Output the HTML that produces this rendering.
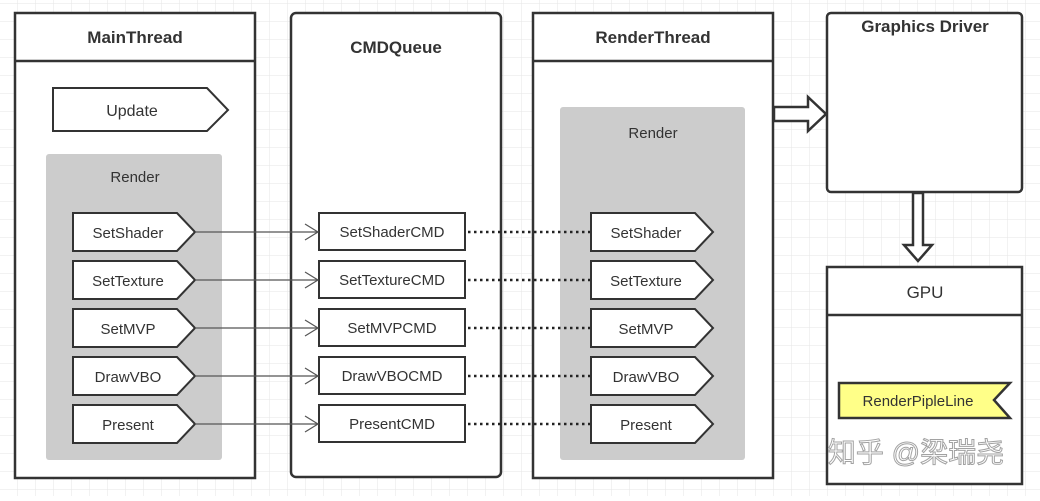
<!DOCTYPE html>
<html><head><meta charset="utf-8"><style>
body{margin:0;width:1040px;height:496px;overflow:hidden;background:#fff;}
svg text{font-family:"Liberation Sans","Noto Sans CJK SC",sans-serif;}
</style></head><body>
<svg width="1040" height="496" viewBox="0 0 1040 496" xmlns="http://www.w3.org/2000/svg">
<defs>
<pattern id="g" width="18" height="18" patternUnits="userSpaceOnUse" x="0" y="4">
<path d="M18 0V18M0 18H18" stroke="#e6e6e6" stroke-width="1" fill="none"/>
</pattern>
</defs>
<rect width="1040" height="496" fill="url(#g)"/>
<g stroke="#333" stroke-width="2.5" fill="#fff">
<rect x="15" y="13" width="240" height="465"/>
<line x1="15" y1="61" x2="255" y2="61"/>
<rect x="291" y="13" width="210" height="464" rx="5"/>
<rect x="533" y="13" width="240" height="465"/>
<line x1="533" y1="61" x2="773" y2="61"/>
<rect x="827" y="13" width="195" height="179" rx="4"/>
<rect x="827" y="267" width="195" height="217"/>
<line x1="827" y1="315" x2="1022" y2="315"/>
</g>
<g fill="#333" font-weight="bold" font-size="17" text-anchor="middle">
<text x="135" y="43">MainThread</text>
<text x="396" y="53">CMDQueue</text>
<text x="653" y="43">RenderThread</text>
<text x="925" y="32">Graphics Driver</text>
</g>
<text x="925" y="298" font-size="17" fill="#333" text-anchor="middle">GPU</text>
<rect x="46" y="154" width="176" height="306" rx="3" fill="#cccccc"/>
<rect x="560" y="107" width="185" height="353" rx="3" fill="#cccccc"/>
<text x="135" y="182" font-size="15" fill="#333" text-anchor="middle">Render</text>
<text x="653" y="138" font-size="15" fill="#333" text-anchor="middle">Render</text>
<g stroke="#333" stroke-width="2" fill="#fff">
<path d="M53 88H207L228 110L207 131H53Z"/>
</g>
<text x="132" y="116" font-size="16" fill="#333" text-anchor="middle">Update</text>
<g font-size="15" fill="#333" text-anchor="middle">
<!-- rows -->
<g id="r">
</g>
</g>
<g stroke="#333" stroke-width="2" fill="#fff">
<path d="M73 213H177L195 232L177 251H73Z"/>
<path d="M73 261H177L195 280L177 299H73Z"/>
<path d="M73 309H177L195 328L177 347H73Z"/>
<path d="M73 357H177L195 376L177 395H73Z"/>
<path d="M73 405H177L195 424L177 443H73Z"/>
<path d="M591 213H695L713 232L695 251H591Z"/>
<path d="M591 261H695L713 280L695 299H591Z"/>
<path d="M591 309H695L713 328L695 347H591Z"/>
<path d="M591 357H695L713 376L695 395H591Z"/>
<path d="M591 405H695L713 424L695 443H591Z"/>
<rect x="319" y="213" width="146" height="37"/>
<rect x="319" y="261" width="146" height="37"/>
<rect x="319" y="309" width="146" height="37"/>
<rect x="319" y="357" width="146" height="37"/>
<rect x="319" y="405" width="146" height="37"/>
</g>
<g stroke="#555" stroke-width="1.2" fill="none">
<path d="M195 232H318M305 224L318 232L305 240"/>
<path d="M195 280H318M305 272L318 280L305 288"/>
<path d="M195 328H318M305 320L318 328L305 336"/>
<path d="M195 376H318M305 368L318 376L305 384"/>
<path d="M195 424H318M305 416L318 424L305 432"/>
</g>
<g stroke="#222" stroke-width="2.5" stroke-dasharray="2.5 3.5" fill="none">
<path d="M468 232H590M468 280H590M468 328H590M468 376H590M468 424H590"/>
</g>
<g font-size="15" fill="#333" text-anchor="middle">
<text x="128" y="238">SetShader</text>
<text x="128" y="286">SetTexture</text>
<text x="128" y="334">SetMVP</text>
<text x="128" y="382">DrawVBO</text>
<text x="128" y="430">Present</text>
<text x="646" y="238">SetShader</text>
<text x="646" y="286">SetTexture</text>
<text x="646" y="334">SetMVP</text>
<text x="646" y="382">DrawVBO</text>
<text x="646" y="430">Present</text>
<text x="392" y="237">SetShaderCMD</text>
<text x="392" y="285">SetTextureCMD</text>
<text x="392" y="333">SetMVPCMD</text>
<text x="392" y="381">DrawVBOCMD</text>
<text x="392" y="429">PresentCMD</text>
</g>
<g stroke="#333" stroke-width="2.5" fill="#fff">
<path d="M774 107H808V97L826 114L808 131V121H774Z"/>
<path d="M913 193H923V245H932L918 261L904 245H913Z"/>
<path d="M839 383H1010L994 400L1010 418H839Z" fill="#ffff88"/>
</g>
<text x="918" y="406" font-size="15" fill="#333" text-anchor="middle">RenderPipleLine</text>
<text x="916" y="462" font-size="28" fill="#fff" stroke="#999" stroke-width="1" text-anchor="middle" opacity="0.9">知乎 @梁瑞尧</text>
</svg>
</body></html>
